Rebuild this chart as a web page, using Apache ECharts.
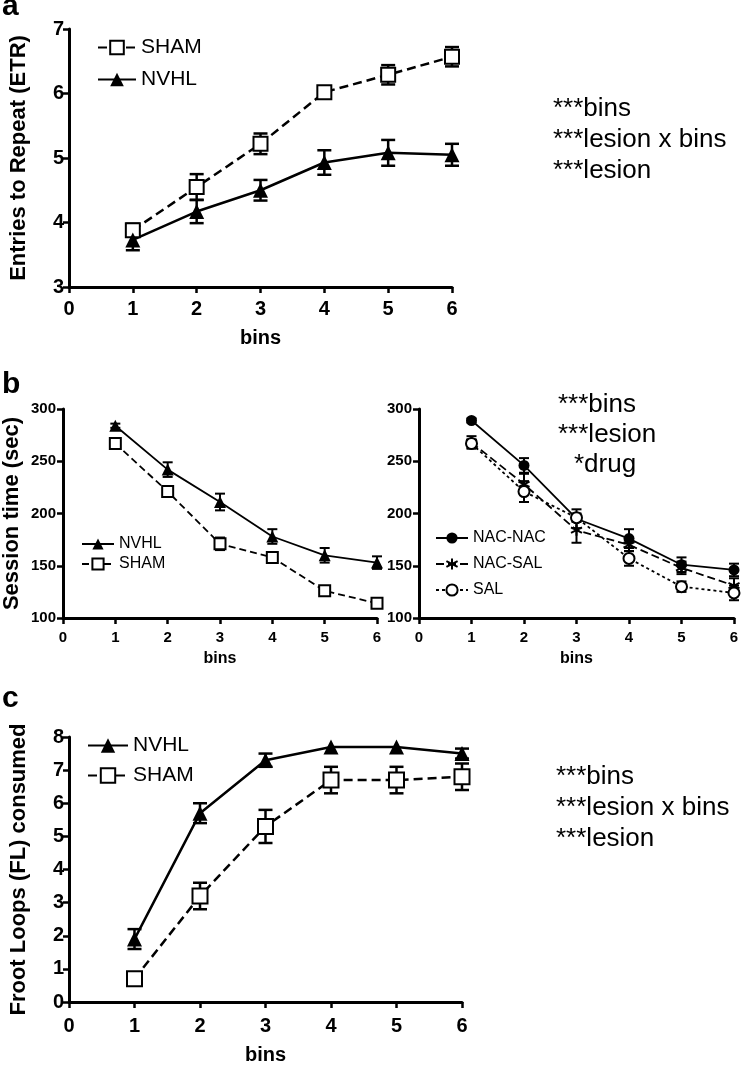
<!DOCTYPE html>
<html style="height: 100%;">
  <head>
    <meta charset="utf-8" />
  </head>
  <body style="height: 100%; margin: 0; background: #fff;">
    <div id="container" style="width: 742px; height: 1066px;"></div>
    <script src="https://cdn.jsdelivr.net/npm/echarts@6/dist/echarts.min.js"></script>
    <script type="text/javascript">
      var FONT = "Liberation Sans, Arial, sans-serif";
      var bins = [1, 2, 3, 4, 5, 6];
      var binTicks = [0, 1, 2, 3, 4, 5, 6];

      // panel a: entries to repeat
      var etrSham = [3.88, 4.55, 5.22, 6.02, 6.29, 6.57];
      var etrShamErr = [0.1, 0.2, 0.16, 0.08, 0.15, 0.15];
      var etrNvhl = [3.73, 4.17, 4.5, 4.93, 5.08, 5.05];
      var etrNvhlErr = [0.16, 0.18, 0.16, 0.19, 0.2, 0.17];

      // panel b left: session time by lesion
      var timeNvhl = [284, 242, 211, 178, 160, 153];
      var timeNvhlErr = [2, 7, 8, 7, 7, 6];
      var timeSham = [267, 221, 171, 158, 126, 114];
      var timeShamErr = [3, 5, 6, 5, 2, 2];

      // panel b right: session time by drug
      var timeNacNac = [289, 246, 195, 176, 151, 146];
      var timeNacNacErr = [2, 7, 9, 9, 7, 6];
      var timeNacSal = [268, 228, 184, 170, 148, 131];
      var timeNacSalErr = [6, 10, 12, 6, 6, 7];
      var timeSal = [267, 221, 196, 157, 130, 124];
      var timeSalErr = [4, 10, 4, 7, 5, 7];

      // panel c: froot loops consumed
      var flNvhl = [1.9, 5.7, 7.3, 7.7, 7.7, 7.5];
      var flNvhlErr = [0.3, 0.3, 0.2, 0, 0, 0.15];
      var flSham = [0.7, 3.2, 5.3, 6.7, 6.7, 6.8];
      var flShamErr = [0, 0.4, 0.5, 0.4, 0.4, 0.4];

      var statsA = ["***bins", "***lesion x bins", "***lesion"];
      var statsB = ["***bins", "***lesion", " *drug"];
      var statsC = ["***bins", "***lesion x bins", "***lesion"];

      var dom = document.getElementById("container");
      var myChart = echarts.init(dom, null, { renderer: "canvas" });

      function pts(vals) {
        return bins.map(function (b, i) { return [b, vals[i]]; });
      }
      function errPts(vals, errs) {
        var out = [];
        bins.forEach(function (b, i) {
          if (errs[i] > 0) out.push([b, vals[i] - errs[i], vals[i] + errs[i]]);
        });
        return out;
      }
      function errRender(cap, lw) {
        return function (params, api) {
          var x = api.value(0);
          var lo = api.coord([x, api.value(1)]);
          var hi = api.coord([x, api.value(2)]);
          var st = { stroke: "#000", lineWidth: lw };
          return {
            type: "group",
            children: [
              { type: "line", shape: { x1: lo[0], y1: lo[1], x2: hi[0], y2: hi[1] }, style: st },
              { type: "line", shape: { x1: lo[0] - cap, y1: lo[1], x2: lo[0] + cap, y2: lo[1] }, style: st },
              { type: "line", shape: { x1: hi[0] - cap, y1: hi[1], x2: hi[0] + cap, y2: hi[1] }, style: st },
            ],
          };
        };
      }
      function errSeries(idx, vals, errs, cap, lw) {
        return {
          type: "custom",
          xAxisIndex: idx,
          yAxisIndex: idx,
          z: 1,
          silent: true,
          renderItem: errRender(cap, lw),
          encode: { x: 0, y: [1, 2] },
          data: errPts(vals, errs),
        };
      }
      function lineSeries(idx, name, vals, sym, size, dash, lw, fill) {
        return {
          type: "line",
          name: name,
          xAxisIndex: idx,
          yAxisIndex: idx,
          z: 3,
          symbol: sym,
          symbolSize: size,
          showAllSymbol: true,
          animation: false,
          lineStyle: { color: "#000", width: lw, type: dash },
          itemStyle: { color: fill, borderColor: "#000", borderWidth: fill === "#fff" ? 2 : 0, opacity: 1 },
          data: pts(vals),
        };
      }

      function xAx(idx, fs, margin, gap, nameFs, lw) {
        return {
          gridIndex: idx,
          type: "value",
          min: 0,
          max: 6,
          interval: 1,
          name: "bins",
          nameLocation: "middle",
          nameGap: gap,
          nameTextStyle: { fontFamily: FONT, fontWeight: "bold", fontSize: nameFs, color: "#000" },
          axisLine: { onZero: false, lineStyle: { color: "#000", width: lw } },
          axisTick: { show: true, length: 6, lineStyle: { color: "#000", width: lw - 0.5 } },
          axisLabel: { fontFamily: FONT, fontWeight: "bold", fontSize: fs, color: "#000", margin: margin,
            formatter: function (v) { return binTicks.indexOf(v) >= 0 ? String(v) : ""; } },
          splitLine: { show: false },
        };
      }
      function yAx(idx, min, max, step, fs, margin, name, gap, nameFs, lw) {
        return {
          gridIndex: idx,
          type: "value",
          min: min,
          max: max,
          interval: step,
          name: name,
          nameLocation: "middle",
          nameRotate: 90,
          nameGap: gap,
          nameTextStyle: { fontFamily: FONT, fontWeight: "bold", fontSize: nameFs, color: "#000" },
          axisLine: { show: true, onZero: false, lineStyle: { color: "#000", width: lw } },
          axisTick: { show: true, length: 6, lineStyle: { color: "#000", width: lw - 0.5 } },
          axisLabel: { fontFamily: FONT, fontWeight: "bold", fontSize: fs, color: "#000", margin: margin },
          splitLine: { show: false },
        };
      }
      function legendBox(names, left, top, w, h, gap, fs) {
        return {
          data: names,
          orient: "vertical",
          left: left,
          top: top,
          itemWidth: w,
          itemHeight: h,
          itemGap: gap,
          padding: 0,
          selectedMode: false,
          textStyle: { fontFamily: FONT, fontSize: fs, color: "#000" },
          formatter: function (n) { return n.split("|")[1]; },
        };
      }
      function statText(lines, x, y0, step, dx) {
        return lines.map(function (t, i) {
          return {
            type: "text",
            left: x + (dx && i === 2 ? dx : 0),
            top: y0 + i * step,
            style: { text: t.trim(), font: "26px " + FONT, fill: "#000" },
          };
        });
      }

      var option = {
        backgroundColor: "#fff",
        animation: false,
        title: [
          { text: "a", left: 2, top: -8, padding: 0, textStyle: { fontFamily: FONT, fontWeight: "bold", fontSize: 30, color: "#000" } },
          { text: "b", left: 2, top: 370, padding: 0, textStyle: { fontFamily: FONT, fontWeight: "bold", fontSize: 30, color: "#000" } },
          { text: "c", left: 2, top: 684, padding: 0, textStyle: { fontFamily: FONT, fontWeight: "bold", fontSize: 30, color: "#000" } },
        ],
        grid: [
          { left: 64, top: 29, width: 388, height: 258 },
          { left: 63, top: 409, width: 314, height: 209 },
          { left: 419, top: 409, width: 315, height: 209 },
          { left: 64, top: 737, width: 398, height: 268 },
        ],
        xAxis: [
          xAx(0, 20, 12, 41, 20, 3),
          xAx(1, 15, 12, 33, 16, 3),
          xAx(2, 15, 12, 33, 16, 3),
          xAx(3, 20, 14, 43, 20, 3),
        ],
        yAxis: [
          yAx(0, 3, 7, 1, 20, 5, "Entries to Repeat (ETR)", 39, 22, 3),
          yAx(1, 100, 300, 50, 15, 7, "Session time (sec)", 40, 22, 3),
          yAx(2, 100, 300, 50, 15, 7, "", 40, 22, 3),
          yAx(3, 0, 8, 1, 20, 5, "Froot Loops (FL) consumed", 39, 22, 3),
        ],
        legend: [
          legendBox(["a|SHAM", "a|NVHL"], 97, 37, 38, 17, 11, 21),
          legendBox(["b1|NVHL", "b1|SHAM"], 81, 536, 32, 14, 4, 16),
          legendBox(["b2|NAC-NAC", "b2|NAC-SAL", "b2|SAL"], 435, 530, 32, 14, 10, 16),
          legendBox(["c|NVHL", "c|SHAM"], 87, 735, 40, 18, 9, 21),
        ],
        graphic: []
          .concat(statText(statsA, 553, 96, 31))
          .concat(statText(statsB, 558, 392, 30, 16))
          .concat(statText(statsC, 556, 764, 31)),
        series: [
          errSeries(0, etrSham, etrShamErr, 7, 2.5),
          errSeries(0, etrNvhl, etrNvhlErr, 7, 2.5),
          lineSeries(0, "a|SHAM", etrSham, "rect", 14, [9, 5], 2.5, "#fff"),
          lineSeries(0, "a|NVHL", etrNvhl, "triangle", 15, "solid", 2.5, "#000"),

          errSeries(1, timeNvhl, timeNvhlErr, 5, 2),
          errSeries(1, timeSham, timeShamErr, 5, 2),
          lineSeries(1, "b1|NVHL", timeNvhl, "triangle", 12, "solid", 1.8, "#000"),
          lineSeries(1, "b1|SHAM", timeSham, "rect", 11, [7, 4], 1.8, "#fff"),

          errSeries(2, timeNacNac, timeNacNacErr, 5, 2),
          errSeries(2, timeNacSal, timeNacSalErr, 5, 2),
          errSeries(2, timeSal, timeSalErr, 5, 2),
          lineSeries(2, "b2|NAC-NAC", timeNacNac, "circle", 11, "solid", 1.8, "#000"),
          (function () {
            var s = lineSeries(2, "b2|NAC-SAL", timeNacSal, "path://M0,-6L0,6M-5.2,-3L5.2,3M-5.2,3L5.2,-3", 11, [8, 4], 1.8, "#000");
            s.itemStyle = { color: "#000", borderColor: "#000", borderWidth: 2 };
            return s;
          })(),
          lineSeries(2, "b2|SAL", timeSal, "circle", 11, [3, 3], 1.8, "#fff"),

          errSeries(3, flNvhl, flNvhlErr, 7, 2.5),
          errSeries(3, flSham, flShamErr, 7, 2.5),
          lineSeries(3, "c|NVHL", flNvhl, "triangle", 15, "solid", 2.5, "#000"),
          lineSeries(3, "c|SHAM", flSham, "rect", 15, [9, 5], 2.5, "#fff"),
        ],
      };

      myChart.setOption(option);
    </script>
  </body>
</html>
